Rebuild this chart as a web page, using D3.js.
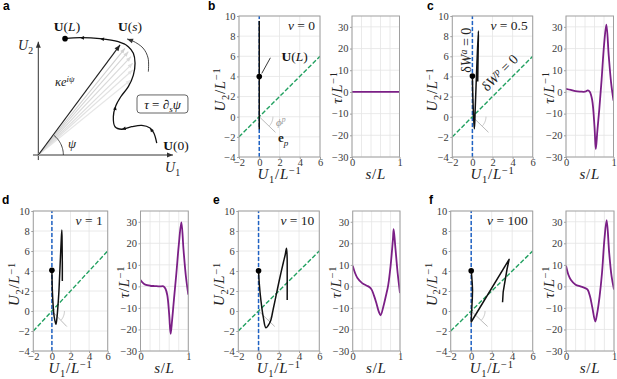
<!DOCTYPE html>
<html><head><meta charset="utf-8">
<script src="https://cdn.jsdelivr.net/npm/d3@7"></script>
<style>body{margin:0;background:#fff}svg{display:block}</style>
</head><body><svg id="chart" width="617" height="379"></svg>
<script>
// ---------------- data ----------------
const uTicksX = [-2, 0, 2, 4, 6];
const uTicksY = [-4, -2, 0, 2, 4, 6, 8, 10];
const tauTicksY = [-30, -20, -10, 0, 10, 20, 30];
const sTicks = [0, 1];
const sGrid = [0, 0.2, 0.4, 0.6, 0.8, 1];
const nuValues = ["0", "0.5", "1", "10", "100"];
const panelLetters = ["b", "c", "d", "e", "f"];

// lines dW^a = 0 (U1 = 0) and dW^p = 0 (U2 = U1)
const lineWa = [[0, -4], [0, 10]];
const lineWp = [[-2, -2], [6, 6]];
const epVector = [[0, 0], [1.6, -1.55]];

// U trajectories (U1, U2), first point = U(L)
const curveB = [[0, 4], [0, 1.5], [0, -1.2], [0, 3], [0, 6], [0, 9.5]];
const curveC = [[0, 4.05], [0.03, 2.5], [0.08, 0.9], [0.14, -0.4], [0.2, -1.2], [0.28, 0.8], [0.38, 3.5], [0.5, 6.5], [0.6, 8.5], [0.58, 7], [0.55, 5], [0.53, 3.5]];
const curveD = [[0, 4.07], [0.02, 3], [0.06, 1.8], [0.13, 0.6], [0.25, -0.6], [0.43, -1.33], [0.55, -0.6], [0.65, 0.5], [0.75, 1.9], [0.83, 3.5], [0.92, 5.4], [1.0, 7.0], [1.07, 8.1], [1.1, 6.5], [1.12, 4.8], [1.12, 3.0]];
const curveE = [[0, 4.03], [0.07, 2.77], [0.23, 1.1], [0.46, -0.57], [0.72, -1.67], [0.95, -1.45], [1.22, -0.9], [1.45, 0.2], [1.71, 1.43], [1.95, 2.6], [2.2, 3.77], [2.45, 4.85], [2.63, 5.6], [2.76, 6.27], [2.82, 5.43], [2.83, 3.43], [2.83, 1.1]];
const curveF = [[0, 4.03], [0.05, 3.5], [0.1, 2.8], [0.13, 2.1], [0.11, 1.3], [0.06, 0.3], [0.02, -0.5], [0, -1.1], [3.7, 5.17], [3.5, 4.2], [3.3, 3.0], [3.12, 1.9], [3.06, 0.87]];

// torque tau(s)
const tauB = [[0, 0], [1, 0]];
const tauC = [[0, 1.4], [0.1, 0.9], [0.2, 0.35], [0.3, 0.15], [0.4, 0.1], [0.46, 0.7], [0.5, 0.1], [0.55, -3.6], [0.6, -16], [0.627, -26.4], [0.66, -18], [0.7, -8.2], [0.75, 5.8], [0.8, 21.3], [0.85, 31], [0.9, 16.6], [0.95, 4.2], [1.0, -4]];
const tauD = [[0, 3], [0.05, 1.6], [0.1, 0.8], [0.2, 0.3], [0.3, 0.15], [0.4, 0], [0.48, 0], [0.52, -1], [0.56, -4], [0.6, -13], [0.63, -22], [0.66, -16], [0.7, -6], [0.75, 6], [0.8, 19], [0.855, 29.7], [0.9, 17], [0.95, 4.6], [1, -3.8]];
const tauE = [[0, 9.6], [0.05, 6.2], [0.1, 3.9], [0.2, 1.5], [0.3, 0.3], [0.35, -0.3], [0.4, -1.5], [0.45, -4.3], [0.5, -7.7], [0.55, -11.6], [0.59, -13.4], [0.65, -9.2], [0.7, -4.6], [0.75, 0.5], [0.8, 9.3], [0.85, 21.7], [0.866, 26.6], [0.9, 18.6], [0.95, 6.2], [1, -3.1]];
const tauF = [[0, 9.6], [0.05, 5.4], [0.1, 3.1], [0.2, 0.8], [0.3, 0], [0.4, -0.8], [0.45, -1.5], [0.5, -4.6], [0.55, -10], [0.61, -16.3], [0.65, -12.4], [0.7, -4.6], [0.75, 6.2], [0.8, 21.7], [0.847, 30.7], [0.9, 15.5], [0.95, 4.6], [1, -1.5]];

// schematic panel a (schematic units)
const aCurve = [[8.46, 0.84], [8.26, 1.55], [7.98, 1.93], [7.39, 2.12], [6.67, 2.02], [5.96, 1.84], [5.48, 2.02], [5.36, 2.74], [5.53, 3.5], [5.89, 4.16], [6.43, 4.88], [6.79, 5.71], [6.91, 6.55], [6.79, 7.26], [6.43, 7.74], [5.71, 8.09], [4.41, 8.31], [2.98, 8.38], [1.91, 8.31]];
const aRays = [[6.19, 7.62], [6.43, 7.38], [6.62, 7.02], [6.74, 6.55], [6.74, 6.07], [6.6, 5.36]];
const aMainRay = [5.84, 7.86];
const aTurnArrow = [[7.86, 5.95], [7.84, 6.93], [7.48, 7.64], [6.76, 8.14], [6.34, 8.29]];
const aAxisU1 = [[-0.38, 0], [9.62, 0]];
const aAxisU2 = [[0, -0.36], [0, 8.09]];
const aBox = [[7.05, 4.29], [10.69, 3.0]];
const aPsiAngle = 53.4;

// ---------------- styling ----------------
const svg = d3.select("#chart");
const SERIF = "'Liberation Serif','Times New Roman',serif";
const SANS = "'Liberation Sans',Arial,sans-serif";
const GRID = "#e4e4e4", SPINE = "#a0a0a0", TXT = "#3a3a3a";
const PURPLE = "#7b1f86", GREEN = "#21a060", BLUE = "#1f62c4";
const LAB = 15;

svg.append("rect").attr("width", 617).attr("height", 379).attr("fill", "#fff");

function rich(sel, parts, size, ls) {
  sel.style("font-family", SERIF);
  if (ls) sel.attr("letter-spacing", ls);
  let cur = 0;
  parts.forEach(p => {
    const ts = sel.append("tspan").text(p.t);
    let target = 0, fs = size;
    if (p.sub) { target = size * 0.25; fs = size * 0.7; }
    if (p.sup) { target = -size * 0.32; fs = size * 0.7; }
    ts.attr("dy", (target - cur).toFixed(2)).attr("font-size", fs);
    if (p.i) ts.attr("font-style", "italic");
    if (p.b) ts.attr("font-weight", "bold");
    cur = target;
  });
  return sel;
}
function arrowHead(g, p0, p1, len, hw, color) {
  const a = Math.atan2(p1[1] - p0[1], p1[0] - p0[0]);
  const bx = p1[0] - len * Math.cos(a), by = p1[1] - len * Math.sin(a);
  const nx = -Math.sin(a) * hw, ny = Math.cos(a) * hw;
  g.append("path").attr("d", `M${p1[0]},${p1[1]}L${bx + nx},${by + ny}L${bx - nx},${by - ny}Z`).attr("fill", color);
}

const layouts = [
  { L0: 239, L1: 320, R0: 352, R1: 399.5, T: 16, B: 157, lx: 208, ly: 10, yl: 14, tl: 10 },
  { L0: 452.3, L1: 532.7, R0: 566, R1: 613.5, T: 16, B: 157, lx: 427, ly: 10, yl: 15, tl: 12 },
  { L0: 33.3, L1: 107.7, R0: 140.5, R1: 188.3, T: 211, B: 351, lx: 2, ly: 204, yl: 14, tl: 12 },
  { L0: 238.3, L1: 319.3, R0: 352.7, R1: 400, T: 211, B: 351, lx: 213, ly: 204, yl: 14, tl: 12 },
  { L0: 450.7, L1: 532.7, R0: 566, R1: 614, T: 211, B: 351, lx: 429, ly: 204, yl: 14, tl: 12 }
];
const curves = [curveB, curveC, curveD, curveE, curveF];
const taus = [tauB, tauC, tauD, tauE, tauF];

function styleAxis(a) {
  a.select(".domain").remove();
  a.selectAll("line").attr("stroke", SPINE);
  a.selectAll("text").style("font-family", SERIF).attr("font-size", 10.5).attr("fill", TXT);
}

layouts.forEach((c, k) => {
  const g = svg.append("g");
  // ---- left: U plane ----
  const x = d3.scaleLinear([-2, 6], [c.L0, c.L1]);
  const y = d3.scaleLinear([-4, 10], [c.B, c.T]);
  g.selectAll(null).data(uTicksX).join("line").attr("x1", d => x(d)).attr("x2", d => x(d))
    .attr("y1", c.T).attr("y2", c.B).attr("stroke", GRID).attr("stroke-width", 0.8);
  g.selectAll(null).data(uTicksY).join("line").attr("y1", d => y(d)).attr("y2", d => y(d))
    .attr("x1", c.L0).attr("x2", c.L1).attr("stroke", GRID).attr("stroke-width", 0.8);
  g.append("g").attr("transform", `translate(0,${c.B})`)
    .call(d3.axisBottom(x).tickValues(uTicksX).tickSize(2).tickPadding(0)).call(styleAxis);
  g.append("g").attr("transform", `translate(${c.L0},0)`)
    .call(d3.axisLeft(y).tickValues(uTicksY).tickSize(2).tickPadding(1.5)).call(styleAxis);

  const clipId = "clipL" + k;
  g.append("clipPath").attr("id", clipId).append("rect")
    .attr("x", c.L0).attr("y", c.T).attr("width", c.L1 - c.L0).attr("height", c.B - c.T);
  const pg = g.append("g").attr("clip-path", `url(#${clipId})`);
  const line = d3.line().x(d => x(d[0])).y(d => y(d[1]));

  pg.append("path").attr("d", line(lineWa)).attr("stroke", BLUE).attr("stroke-width", 1.5)
    .attr("stroke-dasharray", "4,2").attr("fill", "none");
  pg.append("path").attr("d", line(lineWp)).attr("stroke", GREEN).attr("stroke-width", 1.4)
    .attr("stroke-dasharray", "4.5,2").attr("fill", "none");
  pg.append("path").attr("d", line(epVector)).attr("stroke", "#a8a8a8").attr("stroke-width", 0.8).attr("fill", "none");
  const arcPts = d3.range(-42, 1, 2).map(a => [1.35 * Math.cos(a * Math.PI / 180), 1.35 * Math.sin(a * Math.PI / 180)]);
  pg.append("path").attr("d", line(arcPts)).attr("stroke", "#b8b8b8").attr("stroke-width", 0.8).attr("fill", "none");

  const cl = d3.line().x(d => x(d[0])).y(d => y(d[1]))
    .curve(k === 0 || k === 4 ? d3.curveLinear : d3.curveCatmullRom.alpha(0.5));
  pg.append("path").attr("d", cl(curves[k])).attr("stroke", "#111").attr("stroke-width", 1.5)
    .attr("fill", "none").attr("stroke-linejoin", "round");
  pg.append("circle").attr("cx", x(curves[k][0][0])).attr("cy", y(curves[k][0][1])).attr("r", 2.8).attr("fill", "#000");

  g.append("rect").attr("x", c.L0).attr("y", c.T).attr("width", c.L1 - c.L0).attr("height", c.B - c.T)
    .attr("fill", "none").attr("stroke", SPINE).attr("stroke-width", 1);

  rich(g.append("text").attr("x", c.L1 - 5).attr("y", c.T + 14).attr("text-anchor", "end").attr("fill", "#222"),
    [{ t: "ν", i: true }, { t: " = " + nuValues[k] }], 13.5);
  rich(g.append("text").attr("x", (c.L0 + c.L1) / 2).attr("y", c.B + 22).attr("text-anchor", "middle").attr("fill", "#222"),
    [{ t: "U", i: true }, { t: "1", sub: true }, { t: "/" }, { t: "L", i: true }, { t: "−1", sup: true }], LAB, 0.7);
  rich(g.append("text").attr("transform", `translate(${c.L0 - c.yl},${(c.T + c.B) / 2 + 3}) rotate(-90)`)
    .attr("text-anchor", "middle").attr("fill", "#222"),
    [{ t: "U", i: true }, { t: "2", sub: true }, { t: "/" }, { t: "L", i: true }, { t: "−1", sup: true }], LAB, 0.7);

  g.append("text").attr("x", c.lx).attr("y", c.ly).style("font-family", SANS).attr("font-weight", "bold")
    .attr("font-size", 12).attr("fill", "#000").text(panelLetters[k]);

  if (k === 0) {
    g.append("path").attr("d", line([[0.25, 4.3], [1.1, 5.85]])).attr("stroke", "#222").attr("stroke-width", 0.9).attr("fill", "none");
    rich(g.append("text").attr("x", x(2.2)).attr("y", y(5.55)).attr("fill", "#111"),
      [{ t: "U", b: true }, { t: "(" }, { t: "L", i: true }, { t: ")" }], 13.5);
    rich(g.append("text").attr("x", x(1.65)).attr("y", y(-0.9)).attr("fill", "#999"),
      [{ t: "ϕ", i: true }, { t: "p", sup: true, i: true }], 11);
    rich(g.append("text").attr("x", x(1.85)).attr("y", y(-2.55)).attr("fill", "#222"),
      [{ t: "e", b: true }, { t: "p", sub: true, i: true }], 13);
  }
  if (k === 1) {
    rich(g.append("text").attr("transform", `translate(${x(-0.13)},${y(6.6)}) rotate(-90)`)
      .attr("text-anchor", "middle").attr("fill", "#222"),
      [{ t: "δ" }, { t: "W", i: true }, { t: "a", sup: true, i: true }, { t: " = 0" }], 14);
    const px = x(3.55), py = y(3.55);
    rich(g.append("text").attr("transform", `translate(${px - 5},${py - 5}) rotate(-45)`)
      .attr("text-anchor", "middle").attr("fill", "#222"),
      [{ t: "δ" }, { t: "W", i: true }, { t: "p", sup: true, i: true }, { t: " = 0" }], 14);
  }

  // ---- right: tau(s) ----
  const sx = d3.scaleLinear([0, 1], [c.R0, c.R1]);
  const ty = d3.scaleLinear([-30, 35], [c.B, c.T]);
  g.selectAll(null).data(sGrid).join("line").attr("x1", d => sx(d)).attr("x2", d => sx(d))
    .attr("y1", c.T).attr("y2", c.B).attr("stroke", GRID).attr("stroke-width", 0.8);
  g.selectAll(null).data(tauTicksY).join("line").attr("y1", d => ty(d)).attr("y2", d => ty(d))
    .attr("x1", c.R0).attr("x2", c.R1).attr("stroke", GRID).attr("stroke-width", 0.8);
  g.append("g").attr("transform", `translate(0,${c.B})`)
    .call(d3.axisBottom(sx).tickValues(sTicks).tickFormat(d3.format("d")).tickSize(2).tickPadding(0)).call(styleAxis);
  g.append("g").attr("transform", `translate(${c.R0},0)`)
    .call(d3.axisLeft(ty).tickValues(tauTicksY).tickSize(2).tickPadding(1.5)).call(styleAxis);
  const clipR = "clipR" + k;
  g.append("clipPath").attr("id", clipR).append("rect")
    .attr("x", c.R0).attr("y", c.T).attr("width", c.R1 - c.R0).attr("height", c.B - c.T);
  const tl = d3.line().x(d => sx(d[0])).y(d => ty(d[1])).curve(d3.curveCatmullRom.alpha(0.5));
  g.append("g").attr("clip-path", `url(#${clipR})`).append("path").attr("d", tl(taus[k]))
    .attr("stroke", PURPLE).attr("stroke-width", 1.8).attr("fill", "none").attr("stroke-linejoin", "round");
  g.append("rect").attr("x", c.R0).attr("y", c.T).attr("width", c.R1 - c.R0).attr("height", c.B - c.T)
    .attr("fill", "none").attr("stroke", SPINE).attr("stroke-width", 1);
  rich(g.append("text").attr("x", (c.R0 + c.R1) / 2).attr("y", c.B + 22).attr("text-anchor", "middle").attr("fill", "#222"),
    [{ t: "s", i: true }, { t: "/" }, { t: "L", i: true }], LAB, 0.7);
  rich(g.append("text").attr("transform", `translate(${c.R0 - c.tl},${(c.T + c.B) / 2 + 1}) rotate(-90)`)
    .attr("text-anchor", "middle").attr("fill", "#222"),
    [{ t: "τ", i: true }, { t: "/" }, { t: "L", i: true }, { t: "−1", sup: true }], LAB, 0.7);
});

// ---------------- panel a (schematic) ----------------
const ga = svg.append("g");
const ax = d3.scaleLinear([0, 10], [38.3, 178.3]);
const ay = d3.scaleLinear([0, 10], [155, 15]);
const P = d => [ax(d[0]), ay(d[1])];
const aline = d3.line().x(d => ax(d[0])).y(d => ay(d[1]));
ga.append("text").attr("x", 3).attr("y", 10).style("font-family", SANS).attr("font-weight", "bold")
  .attr("font-size", 12).text("a");
[aAxisU1, aAxisU2].forEach(a => {
  ga.append("path").attr("d", aline(a)).attr("stroke", "#333").attr("stroke-width", 1).attr("fill", "none");
  arrowHead(ga, P(a[0]), P(a[1]), 6, 2.5, "#333");
});
const rayCols = ["#cfcfcf", "#d4d4d4", "#d9d9d9", "#dedede", "#e2e2e2", "#e6e6e6"];
aRays.slice().reverse().forEach((r, i) => {
  const col = rayCols[aRays.length - 1 - i];
  ga.append("path").attr("d", aline([[0, 0], r])).attr("stroke", col).attr("stroke-width", 1.1).attr("fill", "none");
  arrowHead(ga, P([0, 0]), P(r), 5, 2, col);
});
ga.append("path").attr("d", aline([[0, 0], aMainRay])).attr("stroke", "#222").attr("stroke-width", 1.2).attr("fill", "none");
arrowHead(ga, P([0, 0]), P(aMainRay), 6, 2.4, "#222");
const psiPts = d3.range(0, aPsiAngle + 0.1, 3).map(a => [1.79 * Math.cos(a * Math.PI / 180), 1.79 * Math.sin(a * Math.PI / 180)]);
ga.append("path").attr("d", aline(psiPts)).attr("stroke", "#333").attr("stroke-width", 0.9).attr("fill", "none");
ga.append("path").attr("d", d3.line().x(d => ax(d[0])).y(d => ay(d[1])).curve(d3.curveCatmullRom.alpha(0.5))(aCurve))
  .attr("stroke", "#111").attr("stroke-width", 1.3).attr("fill", "none");
[2, 5, 8, 16, 17].forEach(i => arrowHead(ga, P(aCurve[i - 1]), P(aCurve[i]), 4, 1.8, "#111"));
ga.append("circle").attr("cx", ax(aCurve[aCurve.length - 1][0])).attr("cy", ay(aCurve[aCurve.length - 1][1]))
  .attr("r", 2.8).attr("fill", "#000");
ga.append("path").attr("d", d3.line().x(d => ax(d[0])).y(d => ay(d[1])).curve(d3.curveCatmullRom.alpha(0.5))(aTurnArrow))
  .attr("stroke", "#333").attr("stroke-width", 0.9).attr("fill", "none");
arrowHead(ga, P(aTurnArrow[3]), P(aTurnArrow[4]), 6, 2.4, "#333");
ga.append("rect").attr("x", ax(aBox[0][0])).attr("y", ay(aBox[0][1]))
  .attr("width", ax(aBox[1][0]) - ax(aBox[0][0])).attr("height", ay(aBox[1][1]) - ay(aBox[0][1]))
  .attr("rx", 3).attr("fill", "#fff").attr("stroke", "#555").attr("stroke-width", 0.9);
rich(ga.append("text").attr("x", (ax(aBox[0][0]) + ax(aBox[1][0])) / 2).attr("y", ay(3.3)).attr("text-anchor", "middle").attr("fill", "#111"),
  [{ t: "τ", i: true }, { t: " = ∂" }, { t: "s", sub: true, i: true }, { t: "ψ", i: true }], 13);
rich(ga.append("text").attr("x", 67).attr("y", 31).attr("text-anchor", "middle").attr("fill", "#111"),
  [{ t: "U", b: true }, { t: "(" }, { t: "L", i: true }, { t: ")" }], 13.5);
rich(ga.append("text").attr("x", 130).attr("y", 31).attr("text-anchor", "middle").attr("fill", "#111"),
  [{ t: "U", b: true }, { t: "(" }, { t: "s", i: true }, { t: ")" }], 13.5);
rich(ga.append("text").attr("x", 176).attr("y", 150).attr("text-anchor", "middle").attr("fill", "#111"),
  [{ t: "U", b: true }, { t: "(0)" }], 13.5);
rich(ga.append("text").attr("x", 55).attr("y", 86).attr("fill", "#222"),
  [{ t: "κe", i: true }, { t: "iψ", sup: true, i: true }], 12.5);
rich(ga.append("text").attr("x", 68).attr("y", 148).attr("fill", "#222"),
  [{ t: "ψ", i: true }], 13);
rich(ga.append("text").attr("x", 18).attr("y", 50).attr("fill", "#222"),
  [{ t: "U", i: true }, { t: "2", sub: true }], 14);
rich(ga.append("text").attr("x", 165).attr("y", 172).attr("fill", "#222"),
  [{ t: "U", i: true }, { t: "1", sub: true }], 14);
</script></body></html>
